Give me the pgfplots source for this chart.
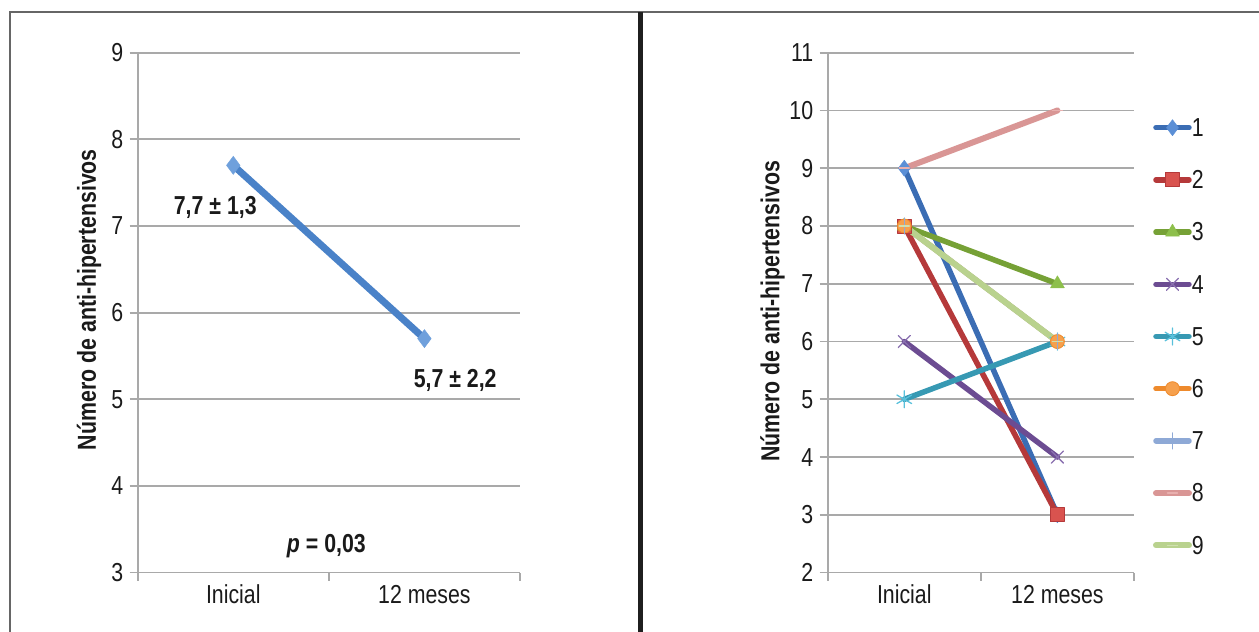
\documentclass[border=0pt]{standalone}
\usepackage{fontspec}
\setmainfont[FakeStretch=0.82]{Liberation Sans}
\usepackage{pgfplots}
\pgfplotsset{compat=1.18}

\definecolor{gridc}{HTML}{A9A9A9}
\definecolor{framec}{HTML}{666666}
\definecolor{txt}{HTML}{1A1A1A}
\definecolor{lblue}{HTML}{4A82C8}
\definecolor{lbluem}{HTML}{6FA0DC}
\definecolor{c1}{HTML}{3B6DB4}\definecolor{m1}{HTML}{5B8FD6}
\definecolor{c2}{HTML}{B5393A}\definecolor{m2}{HTML}{D9534F}
\definecolor{c3}{HTML}{76A136}\definecolor{m3}{HTML}{8DBF4B}
\definecolor{c4}{HTML}{6C4C92}\definecolor{m4}{HTML}{8A70B0}
\definecolor{c5}{HTML}{3799B3}\definecolor{m5}{HTML}{58C0DB}
\definecolor{c6}{HTML}{EE8A2C}\definecolor{m6}{HTML}{F6A04D}
\definecolor{c7}{HTML}{8EA9D6}
\definecolor{c8}{HTML}{D99695}\definecolor{m8}{HTML}{E8B0AF}
\definecolor{c9}{HTML}{B9D28E}\definecolor{m9}{HTML}{CFE0AE}

\pgfplotsset{
 base/.style={
  scale only axis, anchor=south west,
  height=519.9pt,
  ymajorgrids, grid style={line width=1.8pt, color=gridc},
  axis x line*=bottom, axis y line*=left,
  axis line style={line width=1.8pt, color=gridc, -},
  tick style={line width=1.8pt, color=gridc},
  tick align=outside, major tick length=8pt,
  xmin=-0.5, xmax=1.5, xtick={-0.5,0.5,1.5}, xticklabels={,,},
  extra x ticks={0,1}, extra x tick labels={Inicial,12 meses},
  extra x tick style={major tick length=0pt, grid=none},
  /pgf/number format/assume math mode=true,
  tick label style={font=\fontsize{26}{30}\selectfont, text=txt},
  yticklabel style={xshift=-3pt},
  xticklabel style={yshift=-9pt},
  ylabel style={font=\fontsize{26}{30}\selectfont\bfseries, text=txt},
  ylabel={Número de anti-hipertensivos},
  clip=false,
 },
 ln/.style={line width=5.5pt, line cap=round, line join=round},
}

\begin{document}
\begin{tikzpicture}
\path[use as bounding box] (0,0) rectangle (1259pt,632pt);
% frame
\draw[framec, line width=2pt] (9.7pt,0pt) -- (9.7pt,620.3pt) -- (1259pt,620.3pt);
\fill[black!88] (637.7pt,0pt) rectangle (643.3pt,620.3pt);

% left panel
\begin{axis}[base, at={(137.7pt,59.4pt)}, width=382.3pt,
  ymin=3, ymax=9, ytick={3,...,9},
  ylabel style={at={(axis description cs:-0.1274,0.525)}, anchor=center, rotate=0},
]
\addplot[lblue, line width=7pt, line cap=round, mark=diamond*, mark size=9pt,
  mark options={fill=lbluem, draw=lbluem, line width=0.5pt}] coordinates {(0,7.7) (1,5.7)};
\node[font=\fontsize{26}{30}\selectfont\bfseries, text=txt] at (axis cs:-0.094,7.219) {7,7 ± 1,3};
\node[font=\fontsize{26}{30}\selectfont\bfseries, text=txt] at (axis cs:1.161,5.223) {5,7 ± 2,2};
\node[font=\fontsize{26}{30}\selectfont\bfseries, text=txt] at (axis cs:0.487,3.307) {\itshape p\/\upshape\ = 0,03};
\end{axis}

% right panel
\begin{axis}[base, at={(827.7pt,59.4pt)}, width=306.3pt,
  ymin=2, ymax=11, ytick={2,...,11},
  ylabel style={at={(axis description cs:-0.1805,0.503)}, anchor=center, rotate=0},
  legend style={at={(1.062,0.8726)}, anchor=north west, draw=none, fill=none,
    inner sep=0pt, outer sep=0pt, row sep=34.7pt, column sep=0pt,
    font=\fontsize{26}{30}\selectfont, text=txt,
    nodes={inner sep=0pt, text height=17.5pt, text depth=0pt}},
  legend cell align=left,
  legend image code/.code={\draw[#1, mark repeat=2, mark phase=2] plot coordinates {(0pt,0pt) (16.5pt,0pt) (33pt,0pt)};},
]
\addplot[ln, c1, mark=diamond*, mark size=8pt, mark options={fill=m1, draw=m1, line width=0.5pt}] coordinates {(0,9) (1,3)};
\addlegendentry{1}
\addplot[ln, c2, mark=square*, mark size=7pt, mark options={fill=m2, draw=c2, line width=1pt}] coordinates {(0,8) (1,3)};
\addlegendentry{2}
\addplot[ln, c3, mark=triangle*, mark size=8pt, mark options={fill=m3, draw=m3, line width=0.5pt}] coordinates {(0,8) (1,7)};
\addlegendentry{3}
\addplot[ln, c4, mark=x, mark size=8.5pt, mark options={draw=m4, line width=1.3pt}] coordinates {(0,6) (1,4)};
\addlegendentry{4}
\addplot[ln, c5, mark=asterisk, mark size=8.5pt, mark options={draw=m5, line width=1.3pt}] coordinates {(0,5) (1,6)};
\addlegendentry{5}
\addplot[ln, c6, mark=*, mark size=7pt, mark options={fill=m6, draw=c6, line width=0.8pt}] coordinates {(0,8) (1,6)};
\addlegendentry{6}
\addplot[ln, c7, mark=|, mark size=8pt, mark options={draw=c7, line width=1.3pt}] coordinates {(0,8) (1,6)};
\addlegendentry{7}
\addplot[ln, c8, line width=6pt, mark=-, mark size=5pt, mark options={draw=m8, line width=1.5pt}] coordinates {(0,9) (1,10)};
\addlegendentry{8}
\addplot[ln, c9, line width=6pt, mark=-, mark size=5pt, mark options={draw=m9, line width=1.5pt}] coordinates {(0,8) (1,6)};
\addlegendentry{9}
\end{axis}
\end{tikzpicture}
\end{document}
